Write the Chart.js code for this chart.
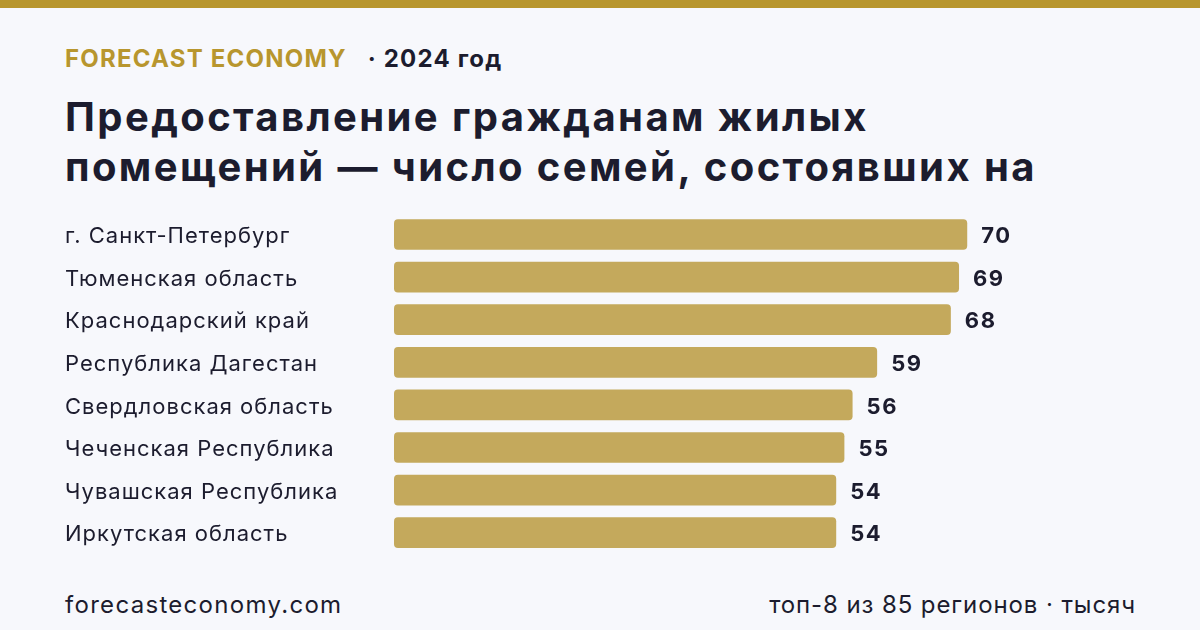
<!DOCTYPE html>
<html lang="ru">
<head>
<meta charset="utf-8">
<script src="https://cdn.jsdelivr.net/npm/chart.js@4"></script>
<style>
  html, body { margin: 0; padding: 0; }
  body {
    width: 1200px; height: 630px; overflow: hidden; position: relative;
    background: #f7f8fc; font-family: Inter, "Noto Sans", sans-serif; color: #1c1c2e;
  }
  .topline { position: absolute; left: 0; top: 0; width: 1200px; height: 8px; background: #b8962e; }
  .brand { position: absolute; left: 65px; top: 44px; font-size: 24px; font-weight: 700; letter-spacing: 1.2px; white-space: nowrap; }
  .brand .gold { color: #b8962e; margin-right: 21px; }
  h1 {
    position: absolute; left: 65px; top: 92px; margin: 0; width: 1130px; white-space: nowrap;
    font-size: 40px; line-height: 50px; font-weight: 700; letter-spacing: 2.4px;
  }
  .chart-box { position: absolute; left: 65px; top: 200px; width: 1070px; height: 370px; }
  .foot { position: absolute; top: 590px; font-size: 24px; }
  .foot.left { left: 65px; letter-spacing: 1.3px; }
  .foot.right { right: 64px; letter-spacing: 0.9px; }
</style>
</head>
<body>
<div class="topline"></div>
<div class="brand"><span class="gold">FORECAST ECONOMY</span>· 2024 год</div>
<h1>Предоставление гражданам жилых<br>помещений — число семей, состоявших на</h1>
<div class="chart-box"><canvas id="barChart"></canvas></div>
<div class="foot left">forecasteconomy.com</div>
<div class="foot right">топ-8 из 85 регионов · тысяч</div>

<script>
// Данные
const regions = [
    'г. Санкт-Петербург',
    'Тюменская область',
    'Краснодарский край',
    'Республика Дагестан',
    'Свердловская область',
    'Чеченская Республика',
    'Чувашская Республика',
    'Иркутская область'
];
const families = [70, 69, 68, 59, 56, 55, 54, 54];

// Разрядка букв для подписей на холсте
const spacing = {
    id: 'spacing',
    beforeDraw(chart) {
        chart.ctx.letterSpacing = '1px';
    }
};

// Подписи значений справа от столбцов
const valueLabels = {
    id: 'valueLabels',
    afterDatasetsDraw(chart) {
        const ctx = chart.ctx;
        const meta = chart.getDatasetMeta(0);
        ctx.save();
        ctx.letterSpacing = '1.5px';
        ctx.font = '700 22px Inter, "Noto Sans", sans-serif';
        ctx.fillStyle = '#1c1c2e';
        ctx.textAlign = 'left';
        ctx.textBaseline = 'middle';
        meta.data.forEach((bar, i) => {
            ctx.fillText(families[i], bar.x + 14, bar.y + 2);
        });
        ctx.restore();
    }
};

new Chart(document.getElementById('barChart'), {
    type: 'bar',
    data: {
        labels: regions,
        datasets: [{
            data: families,
            backgroundColor: '#c4a95c',
            borderRadius: 4,
            borderSkipped: false,
            barPercentage: 0.9,
            categoryPercentage: 0.8
        }]
    },
    options: {
        indexAxis: 'y',
        responsive: true,
        maintainAspectRatio: false,
        animation: false,
        layout: { padding: { top: 12, bottom: 16, right: 4 } },
        plugins: {
            legend: { display: false },
            tooltip: { enabled: false }
        },
        scales: {
            x: { display: false, min: 0, max: 90 },
            y: {
                grid: { display: false },
                border: { display: false },
                afterFit(scale) { scale.width = 329; },
                ticks: {
                    crossAlign: 'far',
                    color: '#1c1c2e',
                    padding: 0,
                    labelOffset: 2,
                    font: { family: 'Inter, "Noto Sans", sans-serif', size: 22 }
                }
            }
        }
    },
    plugins: [spacing, valueLabels]
});
</script>
</body>
</html>
